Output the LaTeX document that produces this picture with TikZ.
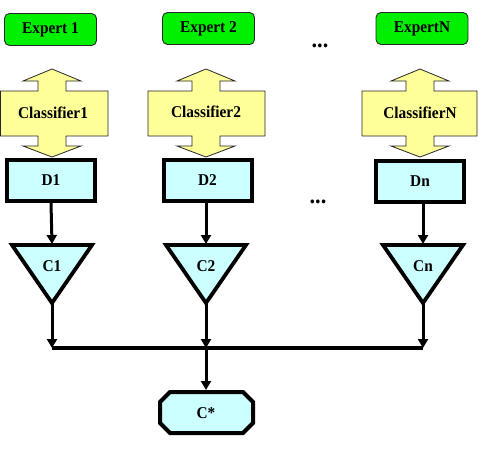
\documentclass[tikz,border=0pt]{standalone}
\usepackage{fontspec}
\setmainfont{Liberation Serif}[FakeStretch=0.93]
\usetikzlibrary{arrows.meta}
\definecolor{expgreen}{HTML}{00F000}
\definecolor{clsyellow}{HTML}{FFFF99}
\definecolor{lcyan}{HTML}{CCFFFF}
\newcommand\ClsArrow[3]{%
  \draw[clsshape] (#1,69) -- (#1+29,81) -- (#1+14,81) -- (#1+14,91) -- (#3,91) -- (#3,136)
    -- (#1+14,136) -- (#1+14,146) -- (#1+29,146) -- (#1,157) -- (#1-29,146) -- (#1-14,146)
    -- (#1-14,136) -- (#2,136) -- (#2,91) -- (#1-14,91) -- (#1-14,81) -- (#1-29,81) -- cycle;}
\tikzset{
  lbl/.style={font=\fontsize{16.5}{20}\selectfont\bfseries},
  dotlbl/.style={font=\fontsize{24}{24}\selectfont\bfseries},
  expert/.style={lbl, rounded corners=5pt, draw=black!85, line width=0.9pt, fill=expgreen,
    minimum width=92pt, minimum height=32pt, inner sep=0pt},
  clsshape/.style={fill=clsyellow, draw=black!85, line width=0.8pt},
  dbox/.style={lbl, draw=black, line width=4pt, fill=lcyan,
    minimum width=88pt, minimum height=41pt, inner sep=0pt},
  tri/.style={draw=black, line width=3.8pt, fill=lcyan, line join=miter},
  arr/.style={line width=3pt, -{Triangle[length=9pt,width=10pt]}},
  bus/.style={line width=3.2pt},
}
\begin{document}
\begin{tikzpicture}[x=1pt,y=-1pt]
\useasboundingbox (0,0) rectangle (479,448);
% experts
\node[expert] (e1) at (50.5,29.5) {Expert 1};
\node[expert] (e2) at (208.5,28.5) {Expert 2};
\node[expert] (en) at (422,28.5) {ExpertN};
\node[dotlbl] (dots1) at (320,46) {...};
% classifiers
\ClsArrow{52}{0.5}{108}
\ClsArrow{206}{148}{265}
\ClsArrow{420}{362}{477}
\node[lbl] (cl1) at (53,113) {Classifier1};
\node[lbl] (cl2) at (206,112) {Classifier2};
\node[lbl] (cln) at (420,113) {ClassifierN};
% D boxes
\node[dbox] (d1) at (51,180.5) {D1};
\node[dbox] (d2) at (207.5,180) {D2};
\node[dbox] (dn) at (420,181.5) {Dn};
\node[dotlbl] (dots2) at (318,202) {...};
% triangles
\draw[tri] (12,245) -- (92,245) -- (52,303) -- cycle;
\draw[tri] (166,245) -- (246,245) -- (206,303) -- cycle;
\draw[tri] (383,245) -- (463,245) -- (423,303) -- cycle;
\coordinate (c1top) at (52,244);
\coordinate (c2top) at (206,244);
\coordinate (cntop) at (423,244);
\coordinate (c1bot) at (52,304);
\coordinate (c2bot) at (206,304);
\coordinate (cnbot) at (423,304);
\node[lbl] (c1) at (52,266) {C1};
\node[lbl] (c2) at (206,266) {C2};
\node[lbl] (cn) at (423,266) {Cn};
% bus
\coordinate (j1) at (52,348);
\coordinate (j2) at (206,348);
\coordinate (jn) at (423,348);
\draw[bus] (j1) -- (jn);
% C*
\draw[tri, line width=4pt] (170,392) -- (243,392) -- (253,402) -- (253,423) -- (243,433)
  -- (170,433) -- (160,423) -- (160,402) -- cycle;
\coordinate (cstop) at (206,390);
\node[lbl] (cs) at (206,413) {C*};
% connectors
\draw[arr] (d1.south) -- (c1top);
\draw[arr] (d2.south -| c2top) -- (c2top);
\draw[arr] (dn.south -| cntop) -- (cntop);
\draw[arr] (c1bot) -- (j1);
\draw[arr] (c2bot) -- (j2);
\draw[arr] (cnbot) -- (jn);
\draw[arr] (j2) -- (cstop);
\end{tikzpicture}
\end{document}
